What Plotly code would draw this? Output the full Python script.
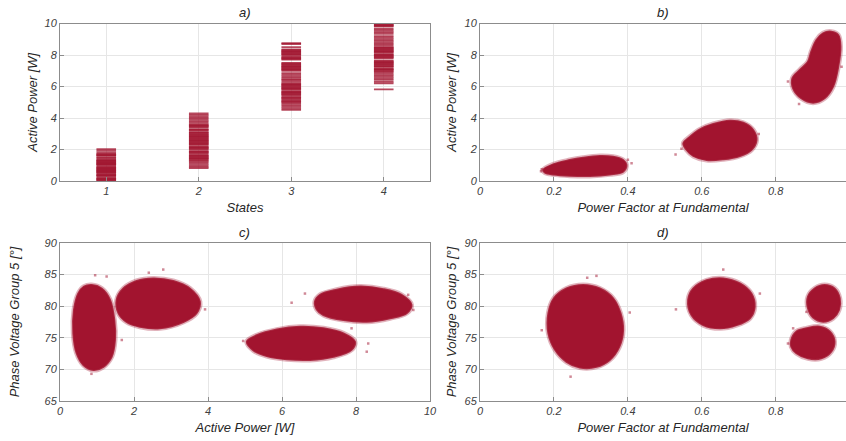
import plotly.graph_objects as go

CRIMSON = "#A2142F"
EDGE = "rgba(162,20,47,0.85)"
HALO = "rgba(162,20,47,0.32)"
SPECK = "rgba(162,20,47,0.5)"

# ---------------- Panel a) : Active power per state ----------------
state_ticks = [1, 2, 3, 4]
state1_power = [-0.03, 0.02, 0.08, 0.12, 0.15, 0.2, 0.3, 0.34, 0.38, 0.41, 0.5, 0.54, 0.58, 0.62,
                0.66, 0.7, 0.74, 0.78, 0.82, 0.86, 0.9, 1.0, 1.04, 1.08, 1.12, 1.16, 1.2, 1.24,
                1.28, 1.32, 1.36, 1.45, 1.5, 1.6, 1.64, 1.68, 1.72, 1.8, 1.92, 2.02]
state2_power = [0.82, 0.9, 1.0, 1.1, 1.2, 1.28, 1.35, 1.4, 1.45, 1.5, 1.55, 1.6, 1.65, 1.75, 1.8,
                1.85, 1.9, 2.0, 2.05, 2.1, 2.15, 2.2, 2.3, 2.35, 2.4, 2.45, 2.5, 2.55, 2.6, 2.65,
                2.7, 2.75, 2.8, 2.85, 2.9, 2.95, 3.0, 3.05, 3.1, 3.2, 3.25, 3.3, 3.4, 3.45, 3.5,
                3.55, 3.6, 3.7, 3.8, 3.9, 4.0, 4.1, 4.2, 4.3]
state3_power = [4.52, 4.62, 4.72, 4.82, 4.92, 5.0, 5.05, 5.1, 5.18, 5.25, 5.3, 5.35, 5.45, 5.5,
                5.55, 5.6, 5.65, 5.7, 5.8, 5.85, 5.9, 5.95, 6.0, 6.05, 6.1, 6.15, 6.2, 6.3, 6.4,
                6.45, 6.55, 6.65, 6.75, 6.85, 7.0, 7.05, 7.1, 7.15, 7.2, 7.25, 7.3, 7.35, 7.4,
                7.45, 7.5, 7.7, 7.75, 7.8, 7.85, 7.9, 8.0, 8.05, 8.1, 8.15, 8.2, 8.25, 8.3,
                8.35, 8.5, 8.7, 8.75]
state4_power = [5.82, 6.2, 6.3, 6.42, 6.52, 6.62, 6.72, 6.82, 6.92, 7.0, 7.05, 7.1, 7.15, 7.25,
                7.3, 7.35, 7.4, 7.45, 7.5, 7.55, 7.6, 7.65, 7.8, 7.85, 7.9, 7.95, 8.0, 8.05, 8.15,
                8.2, 8.25, 8.3, 8.35, 8.4, 8.45, 8.5, 8.6, 8.7, 8.8, 8.9, 9.0, 9.1, 9.2, 9.35,
                9.45, 9.55, 9.65, 9.8, 9.85, 9.9, 9.95, 10.0]

# ---------------- Panel b) : Power factor vs active power (cluster outlines) ----------------
b1_pf = [0.171, 0.198, 0.243, 0.279, 0.324, 0.360, 0.387, 0.396, 0.387, 0.351, 0.297, 0.243, 0.198, 0.176]
b1_p = [0.70, 1.06, 1.33, 1.48, 1.59, 1.54, 1.33, 1.02, 0.59, 0.42, 0.32, 0.34, 0.42, 0.53]
b2_pf = [0.550, 0.568, 0.595, 0.631, 0.676, 0.712, 0.739, 0.748, 0.734, 0.703, 0.658, 0.613, 0.577, 0.559]
b2_p = [2.39, 2.81, 3.28, 3.62, 3.83, 3.70, 3.24, 2.60, 1.97, 1.59, 1.38, 1.33, 1.59, 1.97]
b3_pf = [0.950, 0.969, 0.975, 0.969, 0.955, 0.932, 0.901, 0.869, 0.847, 0.845, 0.865, 0.887, 0.896, 0.910, 0.928]
b3_p = [9.48, 9.27, 8.53, 7.26, 5.99, 5.25, 4.97, 5.25, 5.88, 6.52, 7.05, 7.57, 8.21, 8.95, 9.38]
b_out_pf = [0.167, 0.410, 0.529, 0.754, 0.833, 0.863, 0.978, 0.165, 0.545, 0.40]
b_out_p = [0.74, 1.12, 1.69, 2.98, 6.31, 4.89, 7.26, 0.62, 2.05, 1.35]

# ---------------- Panel c) : Active power vs phase voltage group 5 ----------------
c1_p = [0.856, 1.126, 1.351, 1.468, 1.486, 1.396, 1.171, 0.901, 0.631, 0.450, 0.36, 0.378, 0.495, 0.649]
c1_v = [83.35, 82.8, 81.0, 77.8, 74.65, 72.0, 70.4, 69.9, 70.7, 72.55, 75.7, 79.4, 82.0, 83.1]
c2_p = [1.532, 1.712, 2.07, 2.52, 3.06, 3.51, 3.78, 3.69, 3.33, 2.70, 2.16, 1.80, 1.58]
c2_v = [81.0, 82.8, 84.0, 84.4, 84.0, 82.8, 80.7, 78.9, 77.5, 76.5, 76.75, 77.5, 78.9]
c3_p = [6.89, 7.03, 7.48, 8.11, 8.74, 9.23, 9.50, 9.37, 8.92, 8.29, 7.66, 7.12, 6.94]
c3_v = [80.7, 81.8, 82.6, 83.1, 82.7, 81.8, 80.2, 78.9, 78.1, 77.55, 77.8, 78.6, 79.5]
c4_p = [5.05, 5.32, 5.86, 6.49, 7.12, 7.66, 7.97, 7.88, 7.39, 6.76, 6.13, 5.59, 5.23]
c4_v = [74.4, 75.4, 76.3, 76.75, 76.5, 75.7, 74.4, 73.1, 72.0, 71.5, 71.6, 72.1, 73.0]
c_out_p = [0.95, 1.26, 2.79, 3.92, 1.67, 6.26, 6.62, 4.95, 8.33, 8.29, 9.55, 7.88, 9.41, 0.85, 2.4]
c_out_v = [84.9, 84.7, 85.8, 79.5, 74.65, 80.55, 82.0, 74.5, 74.1, 72.8, 79.4, 76.5, 81.8, 69.3, 85.3]

# ---------------- Panel d) : Power factor vs phase voltage group 5 ----------------
d1_pf = [0.279, 0.324, 0.360, 0.380, 0.387, 0.377, 0.351, 0.315, 0.270, 0.234, 0.203, 0.185, 0.185, 0.200, 0.234]
d1_v = [83.35, 82.8, 81.25, 78.9, 76.2, 73.6, 71.5, 70.4, 70.3, 71.2, 73.1, 75.7, 78.9, 81.25, 82.8]
d2_pf = [0.563, 0.577, 0.613, 0.658, 0.703, 0.734, 0.743, 0.730, 0.694, 0.649, 0.604, 0.572]
d2_v = [81.0, 82.8, 84.1, 84.4, 83.6, 82.0, 79.9, 78.1, 77.0, 76.5, 77.0, 78.6]
d3_pf = [0.887, 0.905, 0.932, 0.959, 0.973, 0.971, 0.955, 0.928, 0.901, 0.887]
d3_v = [81.5, 82.8, 83.35, 82.8, 81.25, 79.4, 78.1, 77.55, 78.2, 79.7]
d4_pf = [0.842, 0.856, 0.883, 0.919, 0.946, 0.959, 0.950, 0.923, 0.887, 0.856, 0.842]
d4_v = [74.65, 76.0, 76.5, 76.75, 76.0, 74.4, 72.8, 71.75, 71.75, 72.55, 73.6]
d_out_pf = [0.405, 0.315, 0.245, 0.167, 0.530, 0.658, 0.757, 0.833, 0.883, 0.847, 0.29]
d_out_v = [79.0, 84.8, 68.85, 76.2, 79.5, 85.8, 82.0, 74.1, 79.1, 76.5, 84.5]

fig = go.Figure()


def strip(xval, ys, ax):
    fig.add_trace(go.Scatter(
        x=[xval] * len(ys), y=ys, mode="markers", xaxis="x" + ax, yaxis="y" + ax,
        marker=dict(symbol="line-ew", size=14, color=CRIMSON,
                    line=dict(color="rgba(162,20,47,0.78)", width=1.8)),
        showlegend=False, hoverinfo="skip"))


def blob(xs, ys, ax):
    cx = list(xs) + [xs[0]]
    cy = list(ys) + [ys[0]]
    fig.add_trace(go.Scatter(
        x=cx, y=cy, mode="lines", line=dict(color=HALO, width=5, shape="spline", smoothing=1),
        xaxis="x" + ax, yaxis="y" + ax, showlegend=False, hoverinfo="skip"))
    fig.add_trace(go.Scatter(
        x=cx, y=cy, mode="lines", fill="toself", fillcolor=CRIMSON,
        line=dict(color=EDGE, width=2, shape="spline", smoothing=1),
        xaxis="x" + ax, yaxis="y" + ax, showlegend=False, hoverinfo="skip"))


def specks(xs, ys, ax):
    fig.add_trace(go.Scatter(
        x=xs, y=ys, mode="markers", xaxis="x" + ax, yaxis="y" + ax,
        marker=dict(symbol="square", size=2.5, color=SPECK, line=dict(width=0)),
        showlegend=False, hoverinfo="skip"))


strip(1, state1_power, "")
strip(2, state2_power, "")
strip(3, state3_power, "")
strip(4, state4_power, "")

for xs, ys in [(b1_pf, b1_p), (b2_pf, b2_p), (b3_pf, b3_p)]:
    blob(xs, ys, "2")
specks(b_out_pf, b_out_p, "2")

for xs, ys in [(c1_p, c1_v), (c2_p, c2_v), (c3_p, c3_v), (c4_p, c4_v)]:
    blob(xs, ys, "3")
specks(c_out_p, c_out_v, "3")

for xs, ys in [(d1_pf, d1_v), (d2_pf, d2_v), (d3_pf, d3_v), (d4_pf, d4_v)]:
    blob(xs, ys, "4")
specks(d_out_pf, d_out_v, "4")

W, H = 846, 441
FONT = "Liberation Sans"
tickfont = dict(family=FONT, size=11, color="#404040", style="italic")
titlefont = dict(family=FONT, size=13, color="#262626", style="italic")


def ax_common(**kw):
    d = dict(showline=True, linecolor="#8c8c8c", linewidth=1, mirror=True,
             ticks="inside", ticklen=4, tickcolor="#8c8c8c",
             showgrid=True, gridcolor="#e6e6e6", gridwidth=1, zeroline=False,
             tickfont=tickfont, automargin=False, fixedrange=True)
    d.update(kw)
    return d


colA = [60 / W, 430 / W]
colB = [480 / W, 1.0]
rowTop = [(H - 181) / H, (H - 23.5) / H]
rowBot = [(H - 401) / H, (H - 243) / H]

fig.update_layout(
    width=W, height=H, margin=dict(l=0, r=0, t=0, b=0),
    paper_bgcolor="white", plot_bgcolor="white",
    xaxis=ax_common(domain=colA, anchor="y", range=[0.5, 4.5], tickvals=state_ticks,
                    title=dict(text="States", font=titlefont, standoff=6)),
    yaxis=ax_common(domain=rowTop, anchor="x", range=[0, 10], dtick=2,
                    title=dict(text="Active Power [W]", font=titlefont, standoff=3)),
    xaxis2=ax_common(domain=colB, anchor="y2", range=[0, 0.99], dtick=0.2,
                     title=dict(text="Power Factor at Fundamental", font=titlefont, standoff=6)),
    yaxis2=ax_common(domain=rowTop, anchor="x2", range=[0, 10], dtick=2,
                     title=dict(text="Active Power [W]", font=titlefont, standoff=4)),
    xaxis3=ax_common(domain=colA, anchor="y3", range=[0, 10], dtick=2,
                     title=dict(text="Active Power [W]", font=titlefont, standoff=6)),
    yaxis3=ax_common(domain=rowBot, anchor="x3", range=[65, 90], dtick=5,
                     title=dict(text="Phase Voltage Group 5 [°]", font=titlefont, standoff=21)),
    xaxis4=ax_common(domain=colB, anchor="y4", range=[0, 0.99], dtick=0.2,
                     title=dict(text="Power Factor at Fundamental", font=titlefont, standoff=6)),
    yaxis4=ax_common(domain=rowBot, anchor="x4", range=[65, 90], dtick=5,
                     title=dict(text="Phase Voltage Group 5 [°]", font=titlefont, standoff=4)),
)

panel_titles = ["a)", "b)", "c)", "d)"]
title_pos = [((colA[0] + colA[1]) / 2, rowTop[1]), ((colB[0] + colB[1]) / 2, rowTop[1]),
             ((colA[0] + colA[1]) / 2, rowBot[1]), ((colB[0] + colB[1]) / 2, rowBot[1])]
for t, (px, py) in zip(panel_titles, title_pos):
    fig.add_annotation(text=t, x=px, y=py, xref="paper", yref="paper", showarrow=False,
                       xanchor="center", yanchor="bottom", yshift=1,
                       font=dict(family=FONT, size=13, color="#262626", style="italic"))

fig.write_html("out.html")
